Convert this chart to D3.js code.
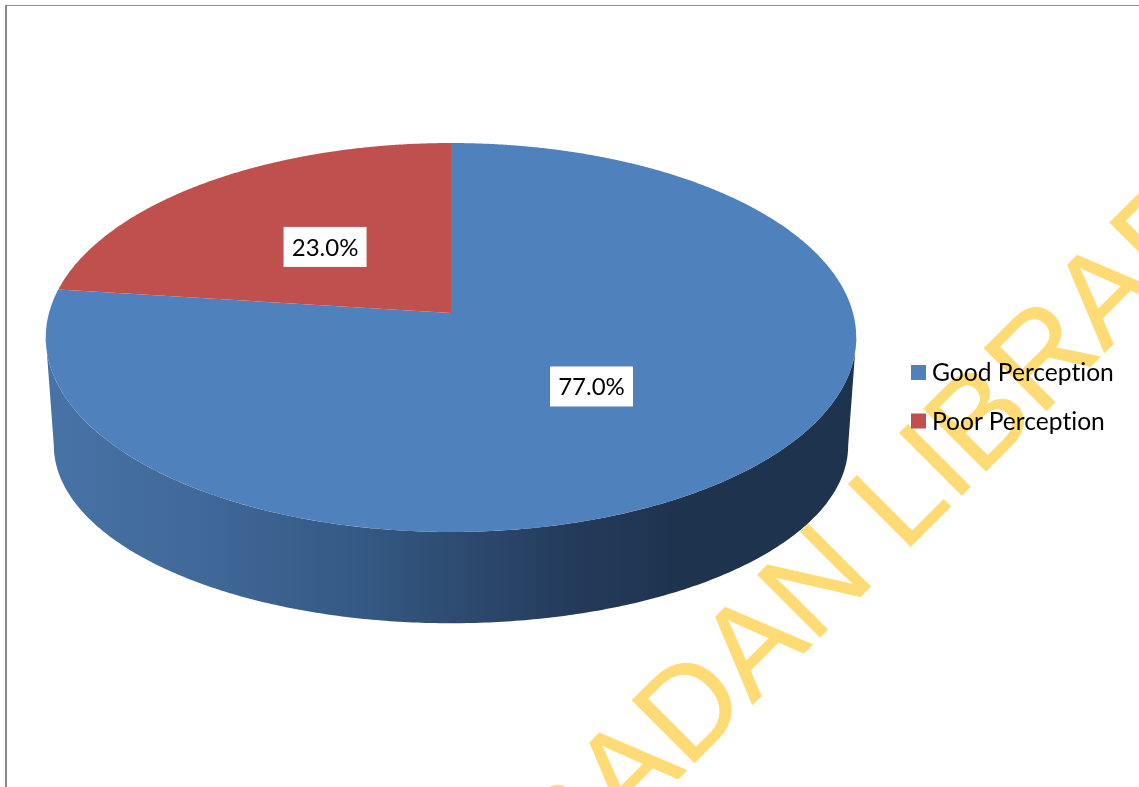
<!DOCTYPE html>
<html>
<head>
<meta charset="utf-8">
<script src="https://cdn.jsdelivr.net/npm/d3@7"></script>
<style>
  html, body { margin: 0; padding: 0; background: #fff; }
  svg { display: block; }
</style>
</head>
<body>
<svg id="chart" width="1139" height="787"></svg>
<script>
// Survey result: share of respondents by perception
const categories = ["Good Perception", "Poor Perception"];
const percentages = [77.0, 23.0];
const sliceColors = ["#4f81bd", "#c0504d"];
const wallStops = [
  [0.00, "#4873a6"], [0.18, "#41699a"], [0.38, "#345a85"],
  [0.50, "#2e4c72"], [0.66, "#233a5a"], [0.78, "#1e334e"], [1.00, "#1d334e"]
];
const watermark = "IBADAN LIBRARY";

const svg = d3.select("#chart");
const width = 1139, height = 787;

// Frame lines along the top and left edges
svg.append("path")
  .attr("d", d3.line()([[5, 5.5], [width, 5.5]]))
  .attr("fill", "none").attr("stroke", "#8a8a8a").attr("stroke-width", 1);
svg.append("path")
  .attr("d", d3.line()([[6, 5], [6, height]]))
  .attr("fill", "none").attr("stroke", "#8a8a8a").attr("stroke-width", 2);

// Perspective projection of a unit disc lying on a tilted plane
const tilt = 0.126;
function disc(cx, cy, rx, ry) {
  return (u, v) => {
    const w = 1 - tilt * v;
    return [cx + rx * u / w, cy + ry * v / w];
  };
}
const topDisc = disc(451, 313, 402, 191.4);
const baseDisc = disc(451, 423, 394, 175);

const polar = (project, a, r = 1) => project(r * Math.sin(a), -r * Math.cos(a));
const line = d3.line();

const pieLayout = d3.pie().sort(null).value(d => d);
const slices = pieLayout(percentages);

// Side wall: front half of the rim between the widest points, shaded left to right
const grad = svg.append("defs").append("linearGradient")
  .attr("id", "wall").attr("gradientUnits", "userSpaceOnUse")
  .attr("x1", 46).attr("x2", 857).attr("y1", 0).attr("y2", 0);
grad.selectAll("stop").data(wallStops).join("stop")
  .attr("offset", d => d[0]).attr("stop-color", d => d[1]);

const widest = Math.acos(-tilt);
const frontAngles = d3.range(widest, 2 * Math.PI - widest, 0.01).concat([2 * Math.PI - widest]);
const wallPoints = frontAngles.map(a => polar(topDisc, a))
  .concat(frontAngles.slice().reverse().map(a => polar(baseDisc, a)));
svg.append("path").attr("d", line(wallPoints) + "Z").attr("fill", "url(#wall)");

// Top face of each slice
svg.selectAll("path.slice").data(slices).join("path")
  .attr("class", "slice")
  .attr("fill", (d, i) => sliceColors[i])
  .attr("d", d => {
    const steps = d3.range(d.startAngle, d.endAngle, 0.005).concat([d.endAngle]);
    return line([polar(topDisc, 0, 0)].concat(steps.map(a => polar(topDisc, a)))) + "Z";
  });

// Percentage labels on white plates, placed at each slice's mid-angle
const labels = svg.selectAll("g.value").data(slices).join("g")
  .attr("class", "value")
  .attr("transform", d => {
    const mid = (d.startAngle + d.endAngle) / 2;
    const x = polar(topDisc, mid, 0.5)[0];
    const y = polar(topDisc, mid, 0.485)[1];
    return `translate(${x + 1},${y + 0.5})`;
  });
labels.append("rect")
  .attr("x", -41.5).attr("y", -20).attr("width", 83).attr("height", 40).attr("fill", "#fff");
labels.append("text")
  .attr("text-anchor", "middle").attr("y", 9)
  .attr("font-family", "Lato, 'Open Sans', sans-serif").attr("font-size", 24).attr("fill", "#000")
  .style("font-variant-ligatures", "none")
  .text(d => d.data.toFixed(1) + "%");

// Legend
const legend = svg.selectAll("g.legend").data(categories).join("g")
  .attr("class", "legend")
  .attr("transform", (d, i) => `translate(911,${365 + i * 48.5})`);
legend.append("rect").attr("width", 15).attr("height", 15).attr("fill", (d, i) => sliceColors[i]);
legend.append("text")
  .attr("x", 21).attr("y", 16)
  .attr("font-family", "Lato, 'Open Sans', sans-serif").attr("font-size", 24.6).attr("fill", "#000")
  .style("font-variant-ligatures", "none")
  .text(d => d);

// Diagonal library stamp across the page
svg.append("text")
  .attr("transform", "translate(541,916) rotate(-45)")
  .attr("font-family", "'Liberation Sans', Arial, sans-serif")
  .attr("font-size", 128).attr("fill", "#ffdb76")
  .attr("stroke", "#ffdb76").attr("stroke-width", 0.8)
  .style("mix-blend-mode", "multiply")
  .text(watermark);
</script>
</body>
</html>
